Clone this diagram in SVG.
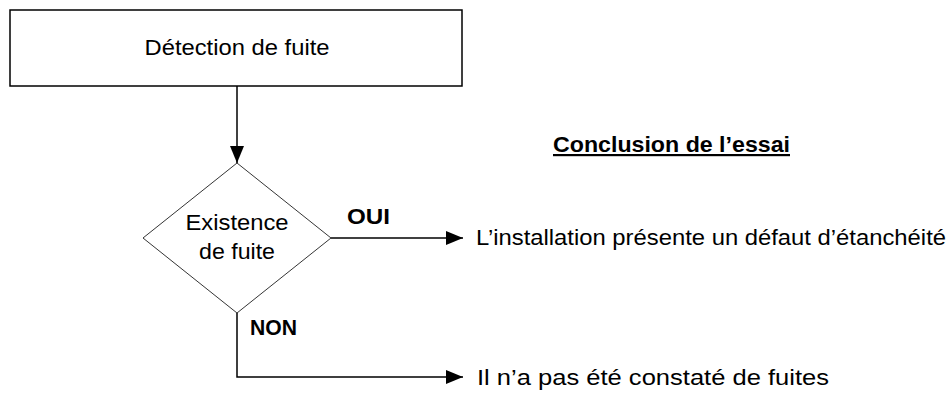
<svg xmlns="http://www.w3.org/2000/svg" width="952" height="400" viewBox="0 0 952 400">
<style>
  text { font-family: "Liberation Sans", Arial, sans-serif; font-size: 22px; fill: #000; }
  .b { font-weight: bold; }
  .c { text-anchor: middle; }
  .ln { fill: none; stroke: #000; stroke-width: 1.5; }
</style>
<defs>
  <marker id="ah" markerWidth="17" markerHeight="14" refX="17" refY="7" orient="auto" markerUnits="userSpaceOnUse">
    <path d="M0,0 L17,7 L0,14 Z" fill="#000"/>
  </marker>
</defs>
<rect width="952" height="400" fill="#fff"/>
<g id="detection">
  <rect x="10" y="10" width="452" height="76" fill="#fff" stroke="#000" stroke-width="1.5"/>
  <text class="c" x="237" y="55" textLength="185" lengthAdjust="spacingAndGlyphs">Détection de fuite</text>
</g>
<g id="existence">
  <polygon points="237,163 331,238 237,313 143,238" fill="#fff" stroke="#000" stroke-width="0.8"/>
  <text class="c" x="237" y="230" textLength="103" lengthAdjust="spacingAndGlyphs">Existence</text>
  <text class="c" x="237" y="259" textLength="76" lengthAdjust="spacingAndGlyphs">de fuite</text>
</g>
<g id="connectors">
  <line class="ln" x1="237" y1="86" x2="237" y2="163" marker-end="url(#ah)"/>
  <line class="ln" x1="331" y1="238" x2="463" y2="238" marker-end="url(#ah)"/>
  <polyline class="ln" points="237,313 237,377 463,377" marker-end="url(#ah)"/>
  <text class="b" x="347" y="224" textLength="43" lengthAdjust="spacingAndGlyphs">OUI</text>
  <text class="b" x="250" y="335" textLength="47" lengthAdjust="spacingAndGlyphs">NON</text>
</g>
<g id="conclusion">
  <text class="b" x="553" y="152" text-decoration="underline" textLength="237" lengthAdjust="spacingAndGlyphs">Conclusion de l’essai</text>
  <text x="476" y="245" textLength="470" lengthAdjust="spacingAndGlyphs">L’installation présente un défaut d’étanchéité</text>
  <text x="477" y="385" textLength="352" lengthAdjust="spacingAndGlyphs">Il n’a pas été constaté de fuites</text>
</g>
</svg>
